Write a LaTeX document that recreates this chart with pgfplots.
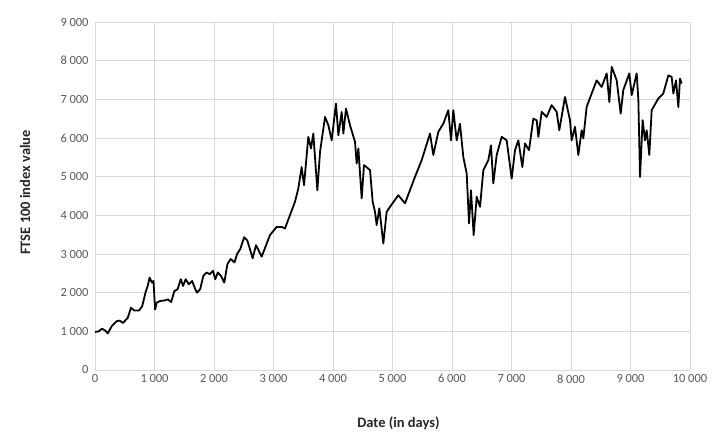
\documentclass[border=0pt]{standalone}
\usepackage{pgfplots}
\pgfplotsset{compat=1.18}
\usepackage{fontspec}
\setmainfont{Carlito}
\definecolor{gridc}{HTML}{D9D9D9}
\definecolor{tickc}{HTML}{595959}
\begin{document}
\begin{tikzpicture}
\begin{axis}[
  scale only axis,
  width=595bp, height=348bp,
  xmin=0, xmax=10000, ymin=0, ymax=9000,
  xtick={0,1000,...,10000}, ytick={0,1000,...,9000},
  scaled x ticks=false, scaled y ticks=false,
  grid=major,
  major grid style={gridc, line width=0.8pt},
  axis line style={draw=none},
  tick style={draw=none},
  /pgf/number format/.cd, 1000 sep={\hspace{0.22em}}, assume math mode=true,
  /pgfplots/.cd,
  ticklabel style={font=\fontsize{12.5}{14}\selectfont, text=tickc},
  xticklabel style={yshift=-1pt},
  yticklabel style={xshift=-3pt},
  xlabel={\textbf{Date (in days)}},
  ylabel={\textbf{FTSE 100 index value}},
  label style={font=\fontsize{14.5}{17}\selectfont, text=black!85},
  xlabel style={at={(axis cs:5100,0)}, anchor=center, yshift=-53bp},
  ylabel style={at={(axis description cs:-0.1176,0.51)}, anchor=center},
]
\addplot[black, line width=1.8pt, line join=round] coordinates {
(0,985)(64,1000)(118,1070)(172,1017)(215,948)(280,1130)(361,1260)(415,1278)
(469,1217)(550,1348)(605,1609)(659,1539)(740,1539)(794,1652)(848,2000)(886,2174)
(918,2391)(956,2261)(983,2304)(1010,1565)(1037,1739)(1091,1783)(1172,1800)
(1226,1826)(1280,1757)(1334,2043)(1388,2087)(1442,2348)(1480,2174)(1524,2348)
(1578,2217)(1632,2304)(1686,2087)(1713,2000)(1767,2087)(1821,2435)(1875,2522)
(1929,2478)(1983,2565)(2021,2348)(2064,2522)(2118,2435)(2172,2261)(2226,2739)
(2280,2870)(2345,2783)(2388,3000)(2442,3130)(2507,3435)
(2560,3350)(2650,2890)(2706,3230)(2801,2930)(2941,3490)(3053,3700)
(3137,3700)(3193,3660)(3277,4005)(3361,4350)(3417,4695)(3473,5250)(3513,4780)
(3585,6030)(3630,5730)(3669,6115)(3737,4650)(3782,5640)(3866,6545)(3922,6330)
(3978,5940)(4050,6890)(4090,6070)(4146,6675)(4174,6115)(4218,6760)(4286,6330)
(4370,5900)(4398,5340)(4426,5730)(4482,4440)(4521,5300)(4622,5170)(4667,4350)
(4706,4090)(4734,3750)(4779,4180)(4846,3270)(4902,4090)(4958,4220)
(5098,4520)(5210,4310)(5378,4995)(5491,5430)(5630,6115)(5686,5560)(5770,6160)
(5854,6370)(5938,6720)(5983,5940)(6022,6720)(6079,5940)(6134,6370)(6190,5510)
(6247,5080)(6286,3790)(6319,4650)(6364,3490)(6415,4480)(6471,4220)(6527,5170)
(6611,5430)(6655,5810)(6694,4825)(6751,5560)(6835,6030)(6919,5940)(7003,4950)
(7059,5685)(7115,5940)(7182,5250)(7227,5860)(7294,5685)(7367,6500)
(7423,6460)(7451,6030)(7507,6675)(7591,6545)(7675,6850)(7759,6675)(7803,6200)
(7899,7060)(7983,6460)(8011,5940)(8067,6290)(8123,5560)(8179,6200)(8207,5990)
(8263,6800)(8347,7150)(8431,7490)(8515,7320)(8600,7670)(8644,6930)(8684,7840)
(8768,7490)(8835,6630)(8879,7240)(8980,7670)(9020,7110)(9104,7670)(9132,6980)
(9160,4990)(9204,6460)(9244,5940)(9272,6200)(9316,5560)(9356,6720)(9467,7020)
(9551,7150)(9636,7620)(9692,7580)(9720,7150)(9765,7490)(9804,6800)(9832,7535)
(9860,7410)
};
\end{axis}
\path[use as bounding box] (-95bp,-71bp) rectangle (625bp,370bp);
\end{tikzpicture}
\end{document}
